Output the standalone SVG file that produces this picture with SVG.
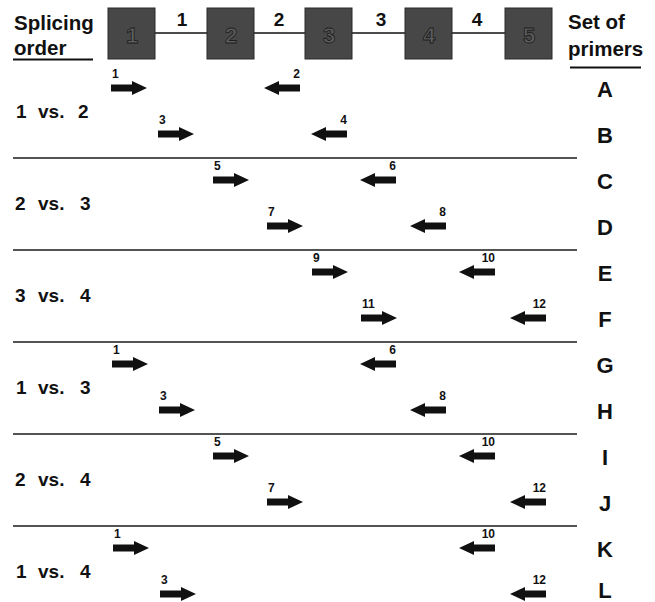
<svg xmlns="http://www.w3.org/2000/svg" xmlns:xlink="http://www.w3.org/1999/xlink" width="655" height="602" viewBox="0 0 655 602">
<style>
text{font-family:"Liberation Sans",Arial,sans-serif;font-weight:bold;fill:#111}
.hdr{font-size:20.5px}
.grp{font-size:19px}
.row{font-size:22px}
.num{font-size:12px}
.intr{font-size:19px}
.exon{fill:#474747;stroke:#2a2a2a;stroke-width:1}
.exnum{font-size:22px;fill:#5e5e5e;stroke:#1c1c1c;stroke-width:0.8;text-anchor:middle}
.sep{stroke:#1a1a1a;stroke-width:1.6}
.arrow{fill:#111}
</style>
<defs>
<path id="fwd" class="arrow" d="M0,-3.5 H21 V-7 L36,0 L21,7 V3.5 H0 Z"/>
<path id="rev" class="arrow" d="M0,-3.5 H-21 V-7 L-36,0 L-21,7 V3.5 H0 Z"/>
</defs>
<rect width="655" height="602" fill="#fff"/>

<g id="header">
<text class="hdr" x="14" y="30">Splicing</text>
<text class="hdr" x="14" y="55">order</text>
<line x1="13" y1="59.5" x2="93" y2="59.5" stroke="#111" stroke-width="2"/>
<text class="hdr" x="568" y="29">Set of</text>
<text class="hdr" x="568" y="56">primers</text>
<line x1="570" y1="67.5" x2="641" y2="67.5" stroke="#111" stroke-width="2"/>
</g>

<g id="gene">
<line x1="155" y1="33" x2="505" y2="33" stroke="#111" stroke-width="1.6"/>
<g id="exon1"><rect class="exon" x="108" y="8" width="47" height="51"/><text class="exnum" x="132" y="43">1</text></g>
<g id="exon2"><rect class="exon" x="207" y="8" width="47" height="51"/><text class="exnum" x="231" y="43">2</text></g>
<g id="exon3"><rect class="exon" x="305" y="8" width="47" height="51"/><text class="exnum" x="329" y="43">3</text></g>
<g id="exon4"><rect class="exon" x="405" y="8" width="47" height="51"/><text class="exnum" x="429" y="43">4</text></g>
<g id="exon5"><rect class="exon" x="505" y="8" width="47" height="51"/><text class="exnum" x="529" y="43">5</text></g>
<text class="intr" x="182" y="26" text-anchor="middle">1</text>
<text class="intr" x="279" y="26" text-anchor="middle">2</text>
<text class="intr" x="381" y="26" text-anchor="middle">3</text>
<text class="intr" x="477" y="26" text-anchor="middle">4</text>
</g>

<g id="separators">
<line class="sep" x1="13" y1="158" x2="577" y2="158"/>
<line class="sep" x1="13" y1="250" x2="577" y2="250"/>
<line class="sep" x1="13" y1="342" x2="577" y2="342"/>
<line class="sep" x1="13" y1="434" x2="577" y2="434"/>
<line class="sep" x1="13" y1="526" x2="577" y2="526"/>
</g>

<g id="groups">
<text class="grp" y="118"><tspan x="16">1</tspan><tspan x="38">vs.</tspan><tspan x="78">2</tspan></text>
<text class="grp" y="210"><tspan x="15">2</tspan><tspan x="38">vs.</tspan><tspan x="80">3</tspan></text>
<text class="grp" y="302"><tspan x="15">3</tspan><tspan x="38">vs.</tspan><tspan x="80">4</tspan></text>
<text class="grp" y="394"><tspan x="16">1</tspan><tspan x="38">vs.</tspan><tspan x="80">3</tspan></text>
<text class="grp" y="486"><tspan x="15">2</tspan><tspan x="38">vs.</tspan><tspan x="80">4</tspan></text>
<text class="grp" y="578"><tspan x="16">1</tspan><tspan x="38">vs.</tspan><tspan x="80">4</tspan></text>
</g>

<g id="letters">
<text class="row" x="605" y="97" text-anchor="middle">A</text>
<text class="row" x="605" y="143" text-anchor="middle">B</text>
<text class="row" x="605" y="189" text-anchor="middle">C</text>
<text class="row" x="605" y="235" text-anchor="middle">D</text>
<text class="row" x="605" y="281" text-anchor="middle">E</text>
<text class="row" x="605" y="327" text-anchor="middle">F</text>
<text class="row" x="605" y="373" text-anchor="middle">G</text>
<text class="row" x="605" y="419" text-anchor="middle">H</text>
<text class="row" x="605" y="465" text-anchor="middle">I</text>
<text class="row" x="605" y="511" text-anchor="middle">J</text>
<text class="row" x="605" y="557" text-anchor="middle">K</text>
<text class="row" x="605" y="598" text-anchor="middle">L</text>
</g>

<g id="primers">
<g id="rowA"><use xlink:href="#fwd" x="111" y="88"/><text class="num" x="112" y="78">1</text><use xlink:href="#rev" x="300" y="88"/><text class="num" x="300" y="78" text-anchor="end">2</text></g>
<g id="rowB"><use xlink:href="#fwd" x="158" y="134"/><text class="num" x="159" y="124">3</text><use xlink:href="#rev" x="347" y="134"/><text class="num" x="347" y="124" text-anchor="end">4</text></g>
<g id="rowC"><use xlink:href="#fwd" x="213" y="180"/><text class="num" x="214" y="170">5</text><use xlink:href="#rev" x="396" y="180"/><text class="num" x="396" y="170" text-anchor="end">6</text></g>
<g id="rowD"><use xlink:href="#fwd" x="267" y="226"/><text class="num" x="268" y="216">7</text><use xlink:href="#rev" x="446" y="226"/><text class="num" x="446" y="216" text-anchor="end">8</text></g>
<g id="rowE"><use xlink:href="#fwd" x="312" y="272"/><text class="num" x="313" y="262">9</text><use xlink:href="#rev" x="495" y="272"/><text class="num" x="495" y="262" text-anchor="end">10</text></g>
<g id="rowF"><use xlink:href="#fwd" x="361" y="318"/><text class="num" x="362" y="308">11</text><use xlink:href="#rev" x="546" y="318"/><text class="num" x="546" y="308" text-anchor="end">12</text></g>
<g id="rowG"><use xlink:href="#fwd" x="112" y="364"/><text class="num" x="113" y="354">1</text><use xlink:href="#rev" x="396" y="364"/><text class="num" x="396" y="354" text-anchor="end">6</text></g>
<g id="rowH"><use xlink:href="#fwd" x="159" y="410"/><text class="num" x="160" y="400">3</text><use xlink:href="#rev" x="446" y="410"/><text class="num" x="446" y="400" text-anchor="end">8</text></g>
<g id="rowI"><use xlink:href="#fwd" x="213" y="456"/><text class="num" x="214" y="446">5</text><use xlink:href="#rev" x="495" y="456"/><text class="num" x="495" y="446" text-anchor="end">10</text></g>
<g id="rowJ"><use xlink:href="#fwd" x="267" y="502"/><text class="num" x="268" y="492">7</text><use xlink:href="#rev" x="546" y="502"/><text class="num" x="546" y="492" text-anchor="end">12</text></g>
<g id="rowK"><use xlink:href="#fwd" x="113" y="548"/><text class="num" x="114" y="538">1</text><use xlink:href="#rev" x="495" y="548"/><text class="num" x="495" y="538" text-anchor="end">10</text></g>
<g id="rowL"><use xlink:href="#fwd" x="160" y="594"/><text class="num" x="161" y="584">3</text><use xlink:href="#rev" x="546" y="594"/><text class="num" x="546" y="584" text-anchor="end">12</text></g>
</g>
</svg>
